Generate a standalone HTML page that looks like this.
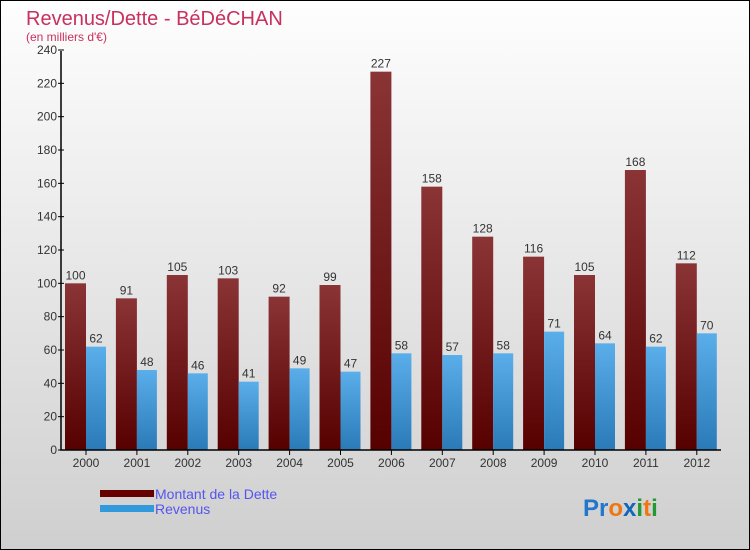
<!DOCTYPE html>
<html><head><meta charset="utf-8"><style>
body{margin:0}
#c{width:750px;height:550px;box-sizing:border-box;border:1px solid #000;background:linear-gradient(#fefefe,#cfcfcf);position:relative;font-family:"Liberation Sans",sans-serif}
</style></head><body>
<div id="c">
<svg width="748" height="548" style="position:absolute;left:0;top:0" id="svg">
<defs>
<linearGradient id="gd" x1="0" y1="0" x2="0" y2="1"><stop offset="0" stop-color="#8a3436"/><stop offset="1" stop-color="#560000"/></linearGradient>
<linearGradient id="gr" x1="0" y1="0" x2="0" y2="1"><stop offset="0" stop-color="#5aaeea"/><stop offset="1" stop-color="#2a7ab8"/></linearGradient>
</defs>
<text x="25" y="24" font-size="20" fill="#c8305e">Revenus/Dette - BéDéCHAN</text>
<text x="25" y="40" font-size="12" fill="#c8305e">(en milliers d'€)</text>
<g id="g"></g>
<rect x="99" y="489" width="54" height="7" fill="#660000"/>
<text x="154" y="498" font-size="14" fill="#5555ee">Montant de la Dette</text>
<rect x="99" y="504" width="54" height="7" fill="#3399dd"/>
<text x="154" y="513" font-size="14" fill="#5555ee">Revenus</text>
<text x="582" y="515" font-size="24" font-weight="bold"><tspan fill="#2277cc">Pr</tspan><tspan fill="#ee7711">o</tspan><tspan fill="#1166bb">x</tspan><tspan fill="#229933">i</tspan><tspan fill="#ee7711">t</tspan><tspan fill="#229933">i</tspan></text>
</svg>
</div>
<script>
const years=["2000","2001","2002","2003","2004","2005","2006","2007","2008","2009","2010","2011","2012"];
const dette=[100,91,105,103,92,99,227,158,128,116,105,168,112];
const revenus=[62,48,46,41,49,47,58,57,58,71,64,62,70];
const yTicks=[0,20,40,60,80,100,120,140,160,180,200,220,240];
const NS="http://www.w3.org/2000/svg";
const g=document.getElementById('g');
const y=v=>449-v*400/240;
const x=i=>64+i*50.9;
function mk(t,a){const e=document.createElementNS(NS,t);for(const k in a)e.setAttribute(k,a[k]);g.appendChild(e);return e;}
dette.forEach((v,i)=>{
 const r=mk('rect',{x:x(i),y:y(v),width:21,height:449-y(v),fill:'url(#gd)'});
 
 
 const t=mk('text',{x:x(i)+10.5,y:y(v)-4,'font-size':12,fill:'#333','text-anchor':'middle'});t.textContent=v;
 
 
});
revenus.forEach((v,i)=>{
 const r=mk('rect',{x:x(i)+21,y:y(v),width:20,height:449-y(v),fill:'url(#gr)'});
 
 
 const t=mk('text',{x:x(i)+31,y:y(v)-4,'font-size':12,fill:'#333','text-anchor':'middle'});t.textContent=v;
 
 
});
const ax=mk('path',{d:'M60 50V449H720',stroke:'#000','stroke-width':1.5,fill:'none'});


yTicks.forEach(v=>{
 mk('line',{x1:57,x2:63,y1:y(v),y2:y(v),stroke:'#000'});
 const t=mk('text',{x:56,y:y(v)+4,'font-size':12,fill:'#333','text-anchor':'end'});t.textContent=v;
 
 
});
years.forEach((yr,i)=>{
 mk('line',{x1:x(i)+21,x2:x(i)+21,y1:449,y2:454,stroke:'#000'});
 const t=mk('text',{x:x(i)+21,y:466,'font-size':12,fill:'#333','text-anchor':'middle'});t.textContent=yr;
 
 
});
</script>
</body></html>
